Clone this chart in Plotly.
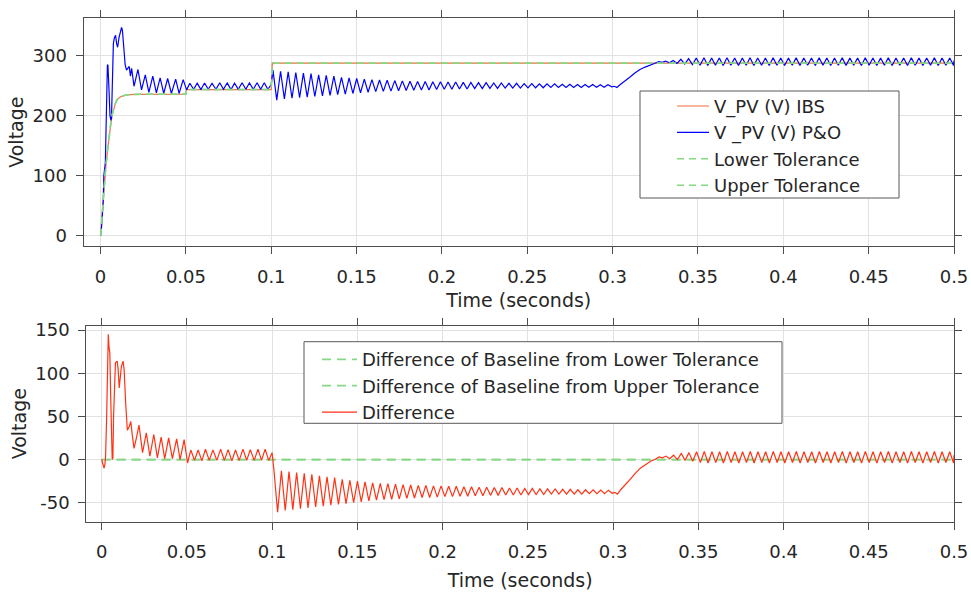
import plotly.graph_objects as go

# ------------------------------------------------------------------ data
# reference (IBS) voltage and tolerance band, time in s, voltage in V
ibs_t = [0.0, 0.001, 0.002, 0.003, 0.004, 0.005, 0.006, 0.007, 0.008, 0.009,
         0.010, 0.012, 0.015, 0.020, 0.0500, 0.0503, 0.1000, 0.1006, 0.5]
ibs_v = [0, 40, 80, 112, 140, 165, 187, 204, 215, 223,
         228, 232, 234.5, 235.5, 236, 243.5, 243.5, 287.5, 287.5]
tol_lower_v = [0, 40, 80, 112, 140, 165, 187, 204, 215, 223,
               228, 232, 234.5, 235.5, 236, 243.5, 243.5, 287.5, 287.5]
tol_upper_v = [0, 40, 80, 112, 140, 165, 187, 204, 215, 223,
               228, 232, 234.5, 235.5, 236, 243.5, 243.5, 287.5, 287.5]

# P&O start-up transient (0 - 0.05 s)
po_rise_t = [0.0000, 0.0006, 0.0012, 0.0016, 0.0019, 0.0023, 0.0028, 0.0033, 0.0037, 0.0040,
             0.0043, 0.0046, 0.0050, 0.0055, 0.0061, 0.0064, 0.0070, 0.0075, 0.0081, 0.0088,
             0.0094, 0.0100, 0.0108, 0.0116, 0.0123, 0.0128, 0.0136, 0.0144, 0.0152, 0.0160,
             0.0168, 0.0175, 0.0182, 0.0196, 0.0219, 0.0240, 0.0262, 0.0283, 0.0306, 0.0327,
             0.0349, 0.0370, 0.0393, 0.0415, 0.0440, 0.0460, 0.0484, 0.0504]
po_rise_v = [0, 15, 42, 60, 100, 118, 122, 190, 262, 284,
             285, 270, 240, 200, 192, 196, 275, 320, 330, 334,
             320, 314, 330, 340, 347, 342, 305, 285, 276, 280,
             282, 266, 279, 249, 277, 243, 268, 239, 266, 238,
             263, 237, 262, 237, 261, 237, 260, 243]

# difference start-up transient (0 - 0.05 s)
diff_rise_t = [0.0000, 0.0006, 0.0014, 0.0019, 0.0023, 0.0029, 0.0035, 0.0039, 0.0043, 0.0048,
               0.0054, 0.0062, 0.0066, 0.0070, 0.0075, 0.0081, 0.0091, 0.0097, 0.0103, 0.0110,
               0.0116, 0.0126, 0.0132, 0.0141, 0.0151, 0.0161, 0.0171, 0.0180, 0.0190, 0.0205,
               0.0219, 0.0240, 0.0262, 0.0283, 0.0306, 0.0327, 0.0349, 0.0370, 0.0393, 0.0415,
               0.0440, 0.0460, 0.0484, 0.0504]
diff_rise_v = [0, -4, -10, -6, 3, 46, 92, 145, 131, 123,
               65, 0, 2, 50, 95, 112, 114, 104, 83, 94,
               108, 114, 104, 65, 34, 38, 44, 28, 13, 26,
               40, 8, 31, 4, 29, 2, 26, 1, 25, 1,
               24, 0, 23, -4]

# 0.05 - 0.1 s: oscillation extremes
t_mid = [0.0523, 0.0545, 0.0566, 0.0588, 0.0609, 0.0631, 0.0653, 0.0676, 0.0698, 0.0720,
         0.0742, 0.0764, 0.0785, 0.0807, 0.0829, 0.0851, 0.0872, 0.0895, 0.0917, 0.0938,
         0.0959, 0.0980, 0.1000]
po_mid = [254, 244, 254, 243.5, 254.5, 244, 254, 244, 255, 244,
          254.5, 243.5, 254, 244, 255, 244, 254.5, 244, 255, 244,
          255, 244, 252]
diff_mid = [11, -1, 11, -1.5, 12, -1, 11, -1, 12, -1,
            11.5, -1.5, 11, -1, 12, -1, 11.5, -1, 12, -1,
            12, -1, 8]

# 0.1 - 0.3 s: oscillation extremes (peak, trough, peak, ...)
t_osc1 = [0.10100, 0.10323, 0.10546, 0.10769, 0.10992, 0.11215, 0.11438, 0.11661, 0.11884, 0.12107,
          0.12330, 0.12553, 0.12776, 0.12999, 0.13222, 0.13445, 0.13668, 0.13891, 0.14114, 0.14337,
          0.14560, 0.14783, 0.15006, 0.15229, 0.15452, 0.15675, 0.15898, 0.16121, 0.16344, 0.16567,
          0.16790, 0.17013, 0.17236, 0.17459, 0.17682, 0.17905, 0.18128, 0.18351, 0.18574, 0.18797,
          0.19020, 0.19243, 0.19466, 0.19689, 0.19912, 0.20135, 0.20358, 0.20581, 0.20804, 0.21027,
          0.21250, 0.21473, 0.21696, 0.21919, 0.22142, 0.22365, 0.22588, 0.22811, 0.23034, 0.23257,
          0.23480, 0.23703, 0.23926, 0.24149, 0.24372, 0.24595, 0.24818, 0.25041, 0.25264, 0.25487,
          0.25710, 0.25933, 0.26156, 0.26379, 0.26602, 0.26825, 0.27048, 0.27271, 0.27494, 0.27717,
          0.27940, 0.28163, 0.28386, 0.28609, 0.28832, 0.29055, 0.29278, 0.29501, 0.29724]
po_osc1 = [276, 226, 274, 228, 273, 229, 272, 230, 271, 231,
           270, 232, 268, 233, 267, 234, 266, 235, 264, 236,
           263, 237, 262, 238, 261, 239, 260, 240, 259.5, 240.5,
           259, 241, 258.5, 241.5, 258, 242, 257.5, 242.5, 257, 243,
           257, 243, 256.5, 243.5, 256.5, 244, 256, 244, 256, 244.5,
           255.5, 244.5, 255.5, 245, 255, 245, 255, 245.5, 254.5, 245.5,
           254.5, 246, 254, 246, 254, 246, 253.5, 246.5, 253.5, 246.5,
           253, 246.5, 253, 247, 253, 247, 252.5, 247, 252.5, 247,
           252, 247, 252, 247.5, 252, 247.5, 251.5, 247.5, 251.5]
diff_osc1 = [-11, -61, -13, -59, -14, -58, -15, -57, -16, -56,
             -17, -55, -19, -54, -20, -53, -21, -52, -23, -51,
             -24, -50, -25, -49, -26, -48, -27, -47, -27.5, -46.5,
             -28, -46, -28.5, -45.5, -29, -45, -29.5, -44.5, -30, -44,
             -30, -44, -30.5, -43.5, -30.5, -43, -31, -43, -31, -42.5,
             -31.5, -42.5, -31.5, -42, -32, -42, -32, -41.5, -32.5, -41.5,
             -32.5, -41, -33, -41, -33, -41, -33.5, -40.5, -33.5, -40.5,
             -34, -40.5, -34, -40, -34, -40, -34.5, -40, -34.5, -40,
             -35, -40, -35, -39.5, -35, -39.5, -35.5, -39.5, -35.5]

# 0.3 - 0.33 s: ramp towards new operating point
t_ramp = [0.2995, 0.3010, 0.3025, 0.3045, 0.3070, 0.3100, 0.3130, 0.3160, 0.3190, 0.3220,
          0.3245, 0.3270, 0.3290]
po_ramp = [248, 249, 247, 252, 257, 264, 271, 277, 281, 285,
           287, 290, 289]
diff_ramp = [-39, -38, -40, -35, -30, -23, -16, -10, -6, -2,
             0, 3, 2]

# 0.33 - 0.5 s: oscillation extremes
t_osc2 = [0.33100, 0.33325, 0.33550, 0.33775, 0.34000, 0.34225, 0.34450, 0.34675, 0.34900, 0.35125,
          0.35350, 0.35575, 0.35800, 0.36025, 0.36250, 0.36475, 0.36700, 0.36925, 0.37150, 0.37375,
          0.37600, 0.37825, 0.38050, 0.38275, 0.38500, 0.38725, 0.38950, 0.39175, 0.39400, 0.39625,
          0.39850, 0.40075, 0.40300, 0.40525, 0.40750, 0.40975, 0.41200, 0.41425, 0.41650, 0.41875,
          0.42100, 0.42325, 0.42550, 0.42775, 0.43000, 0.43225, 0.43450, 0.43675, 0.43900, 0.44125,
          0.44350, 0.44575, 0.44800, 0.45025, 0.45250, 0.45475, 0.45700, 0.45925, 0.46150, 0.46375,
          0.46600, 0.46825, 0.47050, 0.47275, 0.47500, 0.47725, 0.47950, 0.48175, 0.48400, 0.48625,
          0.48850, 0.49075, 0.49300, 0.49525, 0.49750, 0.49975, 0.50000]
po_osc2 = [291, 288, 292, 287, 294, 286, 295, 285, 296, 284,
           296.5, 283.5, 296, 284, 296, 283.5, 296.5, 284, 296, 283.5,
           296, 284, 296.5, 283.5, 296, 284, 296, 283.5, 296.5, 284,
           296, 283.5, 296, 284, 296.5, 283.5, 296, 284, 296, 283.5,
           296.5, 284, 296, 283.5, 296, 284, 296.5, 283.5, 296, 284,
           296, 283.5, 296.5, 284, 296, 283.5, 296, 284, 296.5, 283.5,
           296, 284, 296, 283.5, 296.5, 284, 296, 283.5, 296, 284,
           296.5, 283.5, 296, 284, 296, 283.5, 292]
diff_osc2 = [4, 1, 5, 0, 7, -1, 8, -2, 9, -3.5,
             9.5, -4, 9, -3.5, 9, -4, 9.5, -3.5, 9, -4,
             9, -3.5, 9.5, -4, 9, -3.5, 9, -4, 9.5, -3.5,
             9, -4, 9, -3.5, 9.5, -4, 9, -3.5, 9, -4,
             9.5, -3.5, 9, -4, 9, -3.5, 9.5, -4, 9, -3.5,
             9, -4, 9.5, -3.5, 9, -4, 9, -3.5, 9.5, -4,
             9, -3.5, 9, -4, 9.5, -3.5, 9, -4, 9, -3.5,
             9.5, -4, 9, -3.5, 9, -4, 5]

# baseline tolerance differences (bottom plot)
base_t = [0.0, 0.5]
base_lower_v = [0, 0]
base_upper_v = [0, 0]

x_ticks = [0, 0.05, 0.1, 0.15, 0.2, 0.25, 0.3, 0.35, 0.4, 0.45, 0.5]
top_y_ticks = [0, 100, 200, 300]
bot_y_ticks = [-50, 0, 50, 100, 150]
bot_y_text = ["-50", "0", "50", "100", "150"]

# ------------------------------------------------------------------ assemble
po_t = po_rise_t + t_mid + t_osc1 + t_ramp + t_osc2
po_v = po_rise_v + po_mid + po_osc1 + po_ramp + po_osc2
diff_t = diff_rise_t + t_mid + t_osc1 + t_ramp + t_osc2
diff_v = diff_rise_v + diff_mid + diff_osc1 + diff_ramp + diff_osc2

W, H = 971, 592
FONT = "DejaVu Sans"
TXT = "#262626"
AX = "#4d4d4d"
GRID = "#e2e2e2"
GREEN = "#86d886"

fig = go.Figure()
fig.add_trace(go.Scatter(x=ibs_t, y=ibs_v, mode="lines", name="V_PV (V) IBS",
                         line=dict(color="#f07040", width=1.2),
                         xaxis="x", yaxis="y", legend="legend"))
fig.add_trace(go.Scatter(x=po_t, y=po_v, mode="lines", name="V _PV (V) P&O",
                         line=dict(color="#0000ff", width=1.2),
                         xaxis="x", yaxis="y", legend="legend"))
fig.add_trace(go.Scatter(x=ibs_t, y=tol_lower_v, mode="lines", name="Lower Tolerance",
                         line=dict(color=GREEN, width=1.5, dash="7px,5px"),
                         xaxis="x", yaxis="y", legend="legend"))
fig.add_trace(go.Scatter(x=ibs_t, y=tol_upper_v, mode="lines", name="Upper Tolerance",
                         line=dict(color=GREEN, width=1.5, dash="7px,5px"),
                         xaxis="x", yaxis="y", legend="legend"))

fig.add_trace(go.Scatter(x=base_t, y=base_lower_v, mode="lines",
                         name="Difference of Baseline from Lower Tolerance",
                         line=dict(color=GREEN, width=1.8, dash="9px,6px"),
                         xaxis="x2", yaxis="y2", legend="legend2"))
fig.add_trace(go.Scatter(x=base_t, y=base_upper_v, mode="lines",
                         name="Difference of Baseline from Upper Tolerance",
                         line=dict(color=GREEN, width=1.8, dash="9px,6px"),
                         xaxis="x2", yaxis="y2", legend="legend2"))
fig.add_trace(go.Scatter(x=diff_t, y=diff_v, mode="lines", name="Difference",
                         line=dict(color="#ff3214", width=1.2),
                         xaxis="x2", yaxis="y2", legend="legend2"))

tickfont = dict(family=FONT, size=18, color=TXT)
titlefont = dict(family=FONT, size=19, color=TXT)
common = dict(showline=True, linecolor=AX, linewidth=1, mirror="ticks",
              ticks="outside", ticklen=7, tickcolor=AX, tickwidth=1,
              showgrid=True, gridcolor=GRID, gridwidth=1, zeroline=False,
              tickfont=tickfont, automargin=False)

fig.update_layout(
    width=W, height=H,
    margin=dict(l=0, r=0, t=0, b=0),
    paper_bgcolor="white", plot_bgcolor="white",
    font=dict(family=FONT, color=TXT),
    xaxis=dict(domain=[83.5 / W, 954 / W], range=[-0.01, 0.5], anchor="y",
               tickvals=x_ticks, ticklabelstandoff=7,
               title=dict(text="Time (seconds)", font=titlefont, standoff=8), **common),
    yaxis=dict(domain=[1 - 246 / H, 1 - 18.3 / H], range=[-17.2, 362.3], anchor="x",
               tickvals=top_y_ticks, ticklabelstandoff=5,
               title=dict(text="Voltage", font=titlefont, standoff=3), **common),
    xaxis2=dict(domain=[86.3 / W, 954 / W], range=[-0.009, 0.5], anchor="y2",
                tickvals=x_ticks, ticklabelstandoff=7,
                title=dict(text="Time (seconds)", font=titlefont, standoff=12), **common),
    yaxis2=dict(domain=[1 - 521.7 / H, 1 - 325.7 / H], range=[-72, 155], anchor="x2",
                tickvals=bot_y_ticks, ticktext=bot_y_text, ticklabelstandoff=5,
                title=dict(text="Voltage", font=titlefont, standoff=3), **common),
    legend=dict(x=672 / W, y=1 - 87.8 / H, xanchor="left", yanchor="top",
                bgcolor="rgba(0,0,0,0)", borderwidth=0, itemwidth=32,
                font=dict(family=FONT, size=18, color=TXT)),
    legend2=dict(x=317 / W, y=1 - 341.1 / H, xanchor="left", yanchor="top",
                 bgcolor="rgba(0,0,0,0)", borderwidth=0, itemwidth=35,
                 font=dict(family=FONT, size=18, color=TXT)),
    shapes=[
        dict(type="rect", xref="paper", yref="paper", layer="above",
             x0=640 / W, x1=899 / W, y0=1 - 198 / H, y1=1 - 91 / H,
             fillcolor="white", line=dict(color="#595959", width=1)),
        dict(type="rect", xref="paper", yref="paper", layer="above",
             x0=304 / W, x1=782 / W, y0=1 - 423.3 / H, y1=1 - 341.7 / H,
             fillcolor="white", line=dict(color="#595959", width=1)),
    ],
    showlegend=True,
)

fig.write_html("out.html")
